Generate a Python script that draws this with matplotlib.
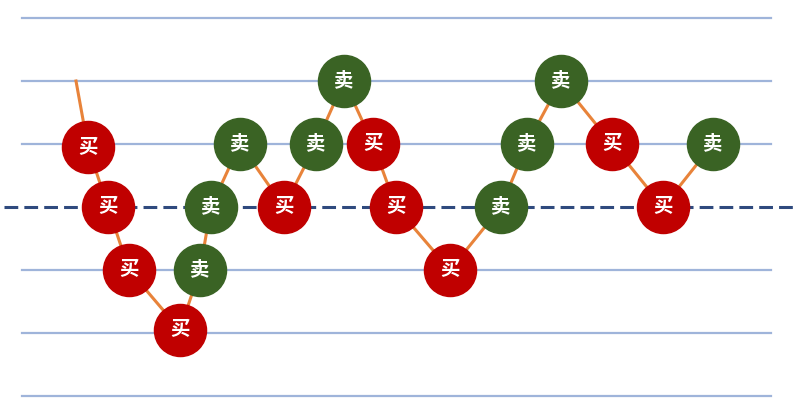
import matplotlib.pyplot as plt

plt.rcParams['font.family'] = ['Noto Sans CJK SC', 'DejaVu Sans']

# price path: x position and level (0 = dashed middle line)
x_pos = [76, 88, 108, 129, 180, 200, 211, 240, 284, 316, 344, 373, 396, 450,
         501, 527, 561, 612, 663, 713]
levels = [2, 0.95, 0, -1, -1.95, -1, 0, 1, 0, 1, 2, 1, 0, -1, 0, 1, 2, 1, 0, 1]
# signal at each point ('' = no marker)
signals = ['', '买', '买', '买', '买', '卖', '卖', '卖', '买', '卖', '卖', '买', '买', '买',
           '卖', '卖', '卖', '买', '买', '卖']
grid_levels = [3, 2, 1, -1, -2, -3]

RED = '#C00000'
GREEN = '#3A6324'

fig = plt.figure(figsize=(7.95, 4.12), dpi=100)
ax = fig.add_axes([0, 0, 1, 1])
ax.set_xlim(0, 795)
ax.set_ylim(-(412 - 207) / 63, 207 / 63)
ax.axis('off')

for g in grid_levels:
    ax.plot([22, 771], [g, g], color='#9FB4DA', lw=1.6, zorder=1)
ax.plot([4, 793], [0, 0], color='#2F4A7E', lw=2.2, ls=(0, (4.5, 2)), zorder=1)

ax.plot(x_pos, levels, color='#E8833A', lw=2.2, zorder=2)

for x, y, s in zip(x_pos, levels, signals):
    if not s:
        continue
    c = RED if s == '买' else GREEN
    ax.plot(x, y, 'o', ms=37.5, color=c, mec=c, zorder=3)
    ax.text(x, y, s, color='white', fontsize=14, fontweight='bold',
            ha='center', va='center', zorder=4)

fig.savefig('out.png', dpi=100)
